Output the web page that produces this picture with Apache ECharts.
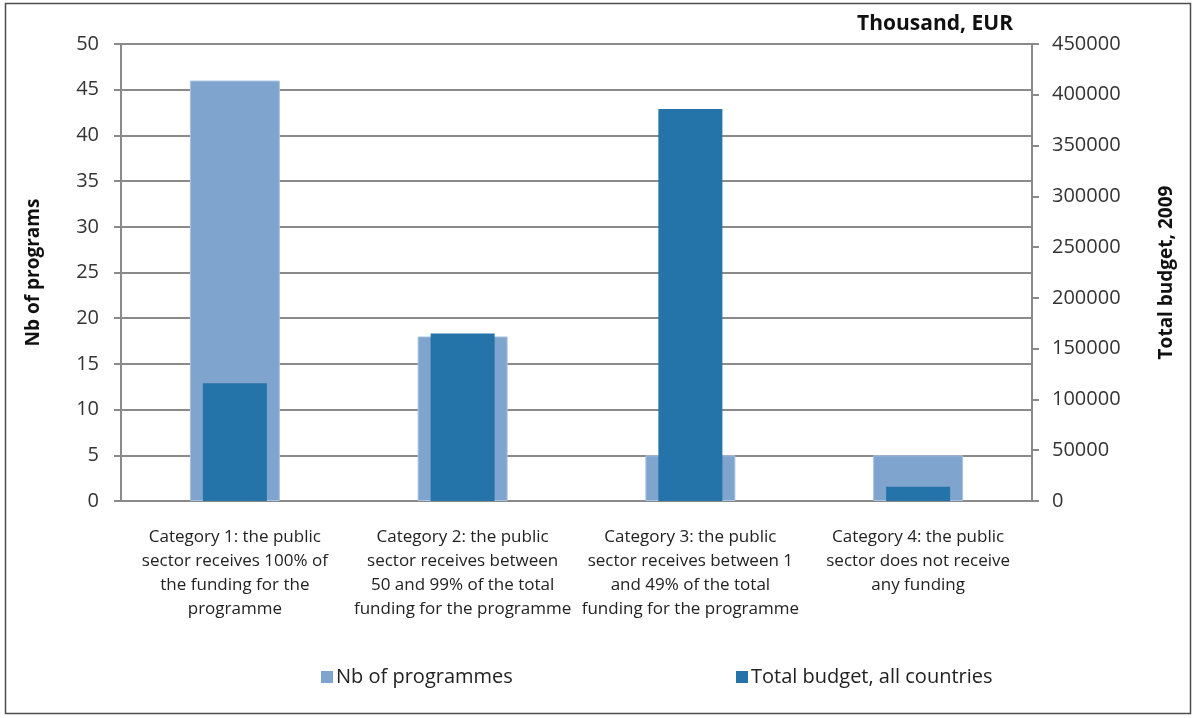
<!DOCTYPE html>
<html>
<head>
<meta charset="utf-8">
<script src="https://cdn.jsdelivr.net/npm/echarts@6/dist/echarts.min.js"></script>
<style>
  html, body { margin: 0; padding: 0; background: #ffffff; }
  #chart { width: 1198px; height: 718px; }
</style>
</head>
<body>
<div id="chart"></div>
<script>
// Public funding categories (axis labels, broken over lines)
const categories = [
  'Category 1: the public\nsector receives 100% of\nthe funding for the\nprogramme',
  'Category 2: the public\nsector receives between\n50 and 99% of the total\nfunding for the programme',
  'Category 3: the public\nsector receives between 1\nand 49% of the total\nfunding for the programme',
  'Category 4: the public\nsector does not receive\nany funding'
];

// Number of programmes per category (left axis)
const nbProgrammes = [46, 18, 5, 5];

// Total budget 2009, thousand EUR (right axis)
const totalBudget = [116000, 165000, 386000, 14000];

const seriesNames = ['Nb of programmes', 'Total budget, all countries'];

const FONT = '"Open Sans", "Liberation Sans", sans-serif';
const GRID_COLOR = '#8a8a8a';
const LIGHT = '#7fa4cd';
const DARK = '#2473a9';

const chart = echarts.init(document.getElementById('chart'), null, { renderer: 'canvas' });

const legendBase = {
  itemWidth: 12, itemHeight: 12, itemGap: 4,
  icon: 'rect',
  itemStyle: { borderWidth: 0 },
  textStyle: { fontFamily: FONT, fontSize: 20, color: '#222', padding: [0, 0, 0, -2] }
};

chart.setOption({
  backgroundColor: '#ffffff',
  animation: false,
  textStyle: { fontFamily: FONT },
  graphic: [{
    type: 'rect',
    shape: { x: 5.5, y: 3.5, width: 1185, height: 710 },
    style: { fill: 'none', stroke: '#4d4d4d', lineWidth: 1.5 },
    silent: true
  }],
  title: {
    text: 'Thousand, EUR',
    right: 180,
    top: 9,
    textStyle: { fontFamily: FONT, fontSize: 21, fontWeight: 'bold', color: '#111' }
  },
  legend: [
    Object.assign({ data: [seriesNames[0]], left: 316, top: 662 }, legendBase),
    Object.assign({ data: [seriesNames[1]], left: 731, top: 662 }, legendBase)
  ],
  grid: { left: 121, right: 166, top: 44, bottom: 217, containLabel: false },
  xAxis: [{
    type: 'category',
    data: categories,
    axisLine: { lineStyle: { color: GRID_COLOR, width: 2 } },
    axisTick: { show: false },
    axisLabel: {
      interval: 0, margin: 24, lineHeight: 24,
      fontFamily: FONT, fontSize: 17, color: '#222'
    }
  }, {
    type: 'category',
    data: categories,
    show: false
  }],
  yAxis: [{
    type: 'value',
    min: 0, max: 50, interval: 5,
    name: 'Nb of programs',
    nameLocation: 'middle',
    nameRotate: 90,
    nameGap: 78,
    nameTextStyle: { fontFamily: FONT, fontSize: 19, fontWeight: 'bold', color: '#111' },
    axisLine: { show: true, lineStyle: { color: GRID_COLOR, width: 2 } },
    axisTick: { show: true, length: 7, lineStyle: { color: GRID_COLOR, width: 2 } },
    axisLabel: { margin: 22, fontFamily: FONT, fontSize: 20, color: '#333' },
    splitLine: { show: true, lineStyle: { color: GRID_COLOR, width: 2 } }
  }, {
    type: 'value',
    position: 'right',
    min: 0, max: 450000, interval: 50000,
    name: 'Total budget, 2009',
    nameLocation: 'middle',
    nameRotate: 90,
    nameGap: 125,
    nameTextStyle: { fontFamily: FONT, fontSize: 19, fontWeight: 'bold', color: '#111' },
    axisLine: { show: true, lineStyle: { color: GRID_COLOR, width: 2 } },
    axisTick: { show: true, length: 7, lineStyle: { color: GRID_COLOR, width: 2 } },
    axisLabel: {
      margin: 20, fontFamily: FONT, fontSize: 20, color: '#333',
      formatter: (v) => String(v)
    },
    splitLine: { show: false }
  }],
  series: [{
    name: seriesNames[0],
    type: 'bar',
    xAxisIndex: 0, yAxisIndex: 0,
    barWidth: 90,
    data: nbProgrammes,
    itemStyle: { color: LIGHT, borderColor: '#a9c2df', borderWidth: 1 },
    z: 2
  }, {
    name: seriesNames[1],
    type: 'bar',
    xAxisIndex: 1, yAxisIndex: 1,
    barWidth: 64,
    data: totalBudget,
    itemStyle: { color: DARK },
    z: 3
  }]
});
</script>
</body>
</html>
